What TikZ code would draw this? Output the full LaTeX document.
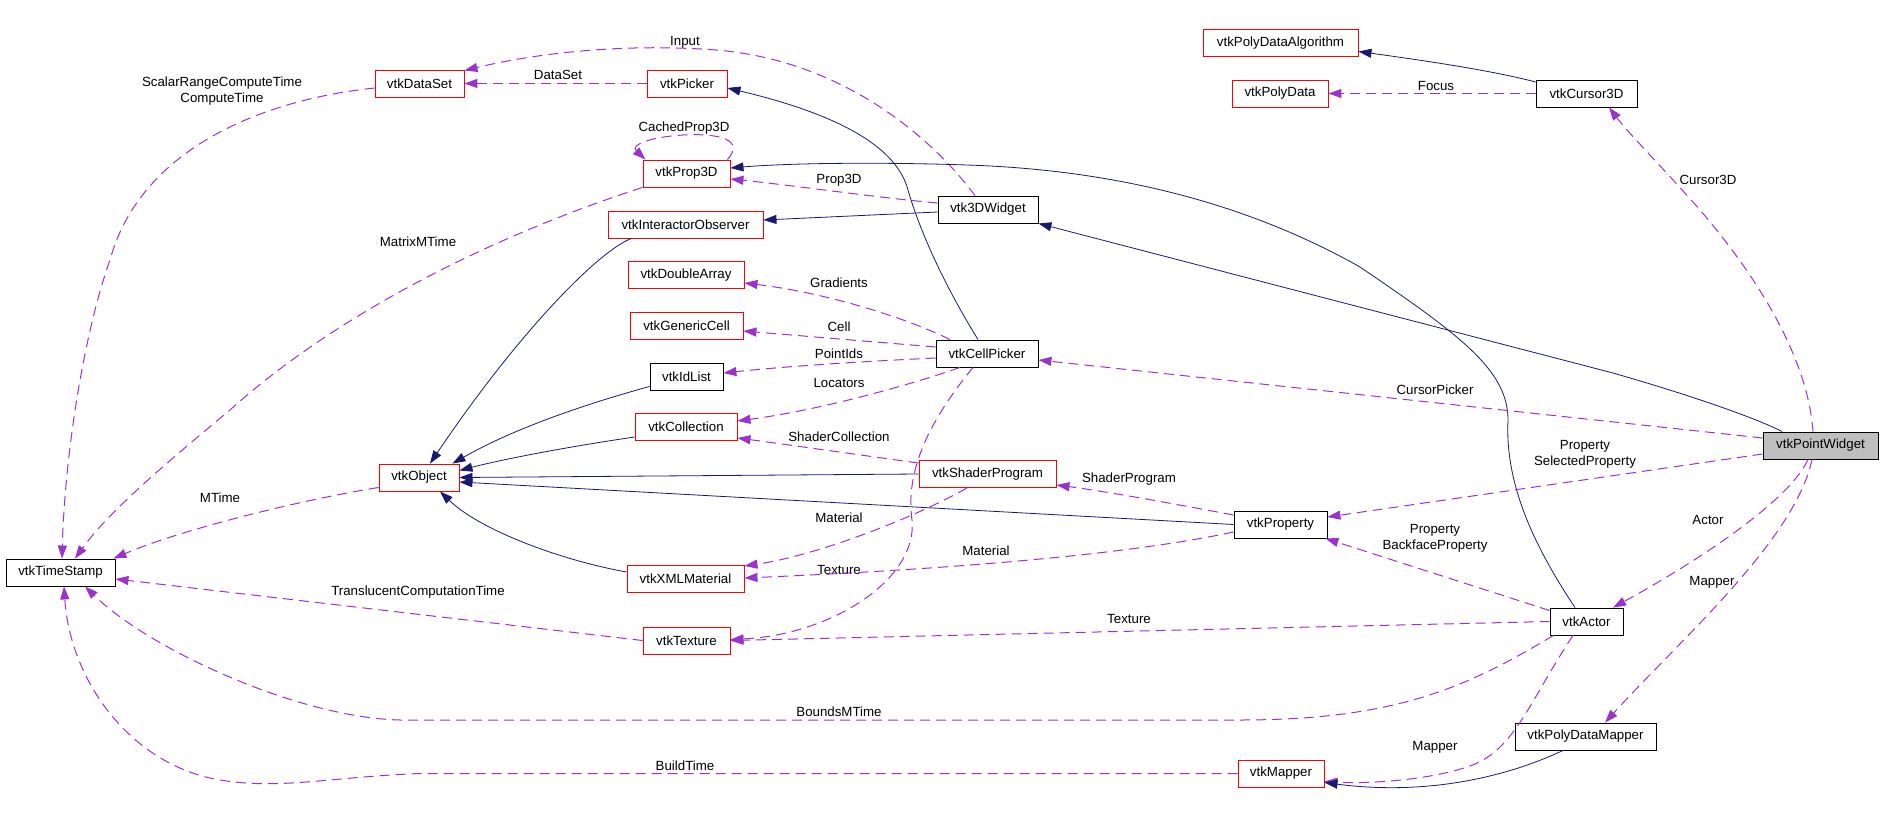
\documentclass[tikz,border=0pt]{standalone}
\usepackage{fontspec}
\setmainfont{Liberation Sans}
\usetikzlibrary{arrows.meta,calc}
\definecolor{inhcol}{HTML}{191970}
\definecolor{usecol}{HTML}{9A32CD}
\definecolor{pwfill}{HTML}{BFBFBF}
\tikzset{
  basebox/.style={rectangle, minimum height=27pt, inner sep=0pt, line width=0.9pt, font=\fontsize{13.3}{16}\selectfont},
  redbox/.style={basebox, draw=red},
  blkbox/.style={basebox, draw=black},
  lbl/.style={inner sep=0pt, align=center, font=\fontsize{13.3}{16}\selectfont},
  inh/.style={draw=inhcol, line width=0.8pt, -{Triangle[length=13pt,width=9pt]}, color=inhcol},
  use/.style={draw=usecol, line width=1pt, dash pattern=on 10pt off 6pt, -{Triangle[length=13pt,width=9pt]}, color=usecol}
}
\begin{document}
\begin{tikzpicture}[x=1pt,y=-1pt]
\useasboundingbox (0,0) rectangle (1883,819);
% nodes
\node[redbox, minimum width=155pt] (PDA) at (1280.5,43) {vtkPolyDataAlgorithm};
\node[redbox, minimum width=96pt] (PD) at (1280,93.5) {vtkPolyData};
\node[blkbox, minimum width=101pt] (C3D) at (1586.5,93.5) {vtkCursor3D};
\node[redbox, minimum width=89pt] (DS) at (419.5,83.5) {vtkDataSet};
\node[redbox, minimum width=80pt] (Picker) at (687,83.5) {vtkPicker};
\node[redbox, minimum width=87pt] (Prop3D) at (686.5,173.5) {vtkProp3D};
\node[redbox, minimum width=155pt] (IO) at (685.5,224.5) {vtkInteractorObserver};
\node[blkbox, minimum width=100pt] (W3D) at (988,209.5) {vtk3DWidget};
\node[redbox, minimum width=116pt] (DA) at (686,275) {vtkDoubleArray};
\node[redbox, minimum width=113pt] (GC) at (686.5,325.5) {vtkGenericCell};
\node[blkbox, minimum width=73pt] (IdList) at (686.5,376.5) {vtkIdList};
\node[blkbox, minimum width=102pt] (CP) at (987,353.5) {vtkCellPicker};
\node[redbox, minimum width=102pt] (Coll) at (686,427) {vtkCollection};
\node[redbox, minimum width=80pt] (Obj) at (419,477.5) {vtkObject};
\node[redbox, minimum width=137pt] (SP) at (987.5,474) {vtkShaderProgram};
\node[blkbox, minimum width=93pt] (Prop) at (1280.5,524.5) {vtkProperty};
\node[blkbox, fill=pwfill, minimum width=115pt] (PW) at (1820.5,445.5) {vtkPointWidget};
\node[blkbox, minimum width=109pt] (TS) at (60.5,572.5) {vtkTimeStamp};
\node[redbox, minimum width=117pt] (XML) at (685.5,579) {vtkXMLMaterial};
\node[redbox, minimum width=87pt] (Tex) at (686.5,640.5) {vtkTexture};
\node[blkbox, minimum width=73pt] (Actor) at (1586.5,621.5) {vtkActor};
\node[blkbox, minimum width=141pt] (PDM) at (1585.5,736.5) {vtkPolyDataMapper};
\node[redbox, minimum width=86pt] (Mapper) at (1281,773.5) {vtkMapper};
% labels
\node[lbl] (lDataSet) at (558,75) {DataSet};
\node[lbl] (lInput) at (685,42) {Input};
\node[lbl] (lCached) at (684,128) {CachedProp3D};
\node[lbl] (lProp3D) at (839,180) {Prop3D};
\node[lbl] (lGrad) at (839,283) {Gradients};
\node[lbl] (lCell) at (839,327) {Cell};
\node[lbl] (lPointIds) at (839,354) {PointIds};
\node[lbl] (lLoc) at (839,383) {Locators};
\node[lbl] (lShColl) at (839,437) {ShaderCollection};
\node[lbl] (lMat1) at (839,518) {Material};
\node[lbl] (lTex1) at (839,570) {Texture};
\node[lbl] (lMat2) at (986,551) {Material};
\node[lbl] (lShProg) at (1129,479) {ShaderProgram};
\node[lbl] (lTex2) at (1129,619) {Texture};
\node[lbl] (lBounds) at (839,712) {BoundsMTime};
\node[lbl] (lBuild) at (685,766) {BuildTime};
\node[lbl] (lFocus) at (1436,86) {Focus};
\node[lbl] (lCursor3D) at (1708,180) {Cursor3D};
\node[lbl] (lCursorPicker) at (1435,390) {CursorPicker};
\node[lbl] (lSelProp) at (1585,454) {Property\\SelectedProperty};
\node[lbl] (lBackProp) at (1435,538) {Property\\BackfaceProperty};
\node[lbl] (lActor) at (1708,520) {Actor};
\node[lbl] (lMapper1) at (1712,582) {Mapper};
\node[lbl] (lMapper2) at (1435,747) {Mapper};
\node[lbl] (lScalar) at (222,91) {ScalarRangeComputeTime\\ComputeTime};
\node[lbl] (lMatrix) at (418,242) {MatrixMTime};
\node[lbl] (lMTime) at (220,498) {MTime};
\node[lbl] (lTransl) at (418,592) {TranslucentComputationTime};
% edges
\draw[use] (Picker.west) -- (DS.east);
\draw[use] ([xshift=-13pt]W3D.north) .. controls (930,135) and (840,60) .. (716,50) .. controls (610,42) and (520,57) .. ([yshift=-1pt]DS.north east);
\draw[use] ([xshift=-3pt]Prop3D.north east) .. controls (745,140) and (720,133) .. (683,135) .. controls (650,137) and (630,145) .. ([xshift=3pt]Prop3D.north west);
\draw[use] ([yshift=6.5pt]W3D.west) .. controls (880,198) and (790,185) .. ([yshift=-5.5pt]Prop3D.east);
\draw[inh] ([yshift=-2.5pt]W3D.west) -- ([yshift=4.5pt]IO.east);
\draw[inh] ([xshift=-9pt]CP.north) .. controls (935,270) and (915,215) .. (908,190) .. controls (895,140) and (820,110) .. ([yshift=-4.5pt]Picker.east);
\draw[inh] ([xshift=-11.5pt]Actor.north) .. controls (1530,540) and (1505,480) .. (1508,420) .. controls (1508,370) and (1460,335) .. (1360,267) .. controls (1250,205) and (1120,170) .. (967,165) .. controls (880,162) and (790,163) .. ([yshift=5.5pt]Prop3D.east);
\draw[inh] ([xshift=-38.5pt]PW.north) .. controls (1760,420) and (1700,398) .. (1613,373) -- (W3D.south east);
\draw[inh] ([yshift=11.5pt]C3D.west) .. controls (1490,70) and (1420,60) .. ([yshift=-8.5pt]PDA.east);
\draw[use] (C3D.west) -- (PD.east);
\draw[use] ([xshift=-7.5pt]PW.north) .. controls (1808,360) and (1760,280) .. (1700,210) .. controls (1665,170) and (1630,135) .. ([xshift=22.5pt]C3D.south);
\draw[use] ([yshift=7.5pt]PW.west) -- ([yshift=-6.5pt]CP.east);
\draw[use] ([yshift=-8.5pt]PW.west) -- ([yshift=7.5pt]Prop.east);
\draw[use] ([xshift=-12.5pt]PW.south) .. controls (1790,500) and (1700,560) .. ([xshift=26.5pt]Actor.north);
\draw[use] ([xshift=-8.5pt]PW.south) .. controls (1795,540) and (1680,640) .. ([xshift=19.5pt]PDM.north);
\draw[use] ([yshift=11pt]Actor.west) -- ([xshift=-2pt]Prop.south east);
\draw[use] (Actor.west) -- (Tex.east);
\draw[use] ([xshift=-33pt]Actor.south) .. controls (1470,685) and (1400,720) .. (1240,720) -- (400,720) .. controls (300,718) and (150,650) .. ([xshift=24.5pt]TS.south);
\draw[use] (Mapper.west) -- (420,773.5) .. controls (330,777) and (280,790) .. (220,780) .. controls (130,765) and (70,680) .. ([xshift=3.5pt]TS.south);
\draw[use] ([xshift=-13.5pt]Actor.south) .. controls (1530,700) and (1515,750) .. (1470,766) .. controls (1430,780) and (1370,784) .. ([yshift=-8pt]Mapper.east);
\draw[inh] ([xshift=-22.5pt]PDM.south) .. controls (1500,780) and (1420,795) .. ([yshift=-9pt]Mapper.east);
\draw[use] ([yshift=-4.5pt]DS.west) .. controls (260,100) and (140,150) .. (110,260) .. controls (85,330) and (65,450) .. ([xshift=1.5pt]TS.north);
\draw[use] (Prop3D.south west) .. controls (480,240) and (330,320) .. (230,410) .. controls (170,460) and (110,510) .. ([xshift=14.5pt]TS.north);
\draw[use] ([yshift=-10pt]Obj.west) .. controls (300,500) and (180,530) .. ([xshift=-2pt]TS.north east);
\draw[use] (Tex.west) -- ([yshift=-6.5pt]TS.east);
\draw[inh] ([xshift=-54pt]IO.south) .. controls (600,250) and (520,330) .. ([xshift=11pt]Obj.north);
\draw[inh] ([yshift=-10pt]IdList.west) .. controls (600,400) and (520,425) .. ([xshift=-7pt]Obj.north east);
\draw[inh] ([yshift=-10pt]Coll.west) .. controls (560,448) and (500,460) .. ([yshift=7pt]Obj.east);
\draw[inh] (SP.west) -- (Obj.east);
\draw[inh] (Prop.west) -- ([yshift=-4.5pt]Obj.east);
\draw[inh] ([yshift=7pt]XML.west) .. controls (560,560) and (480,530) .. ([xshift=21pt]Obj.south);
\draw[use] ([xshift=-37pt]CP.north) .. controls (900,315) and (820,292) .. ([yshift=-8pt]DA.east);
\draw[use] ([yshift=6.5pt]CP.west) -- ([yshift=-5.5pt]GC.east);
\draw[use] ([yshift=-4.5pt]CP.west) .. controls (850,362) and (780,367) .. ([yshift=3.5pt]IdList.east);
\draw[use] ([xshift=-27pt]CP.south) .. controls (910,385) and (820,410) .. ([yshift=6pt]Coll.east);
\draw[use] ([yshift=11pt]SP.west) .. controls (860,455) and (790,445) .. ([yshift=-11pt]Coll.east);
\draw[use] ([yshift=9.5pt]Prop.west) .. controls (1180,505) and (1110,492) .. ([yshift=-11pt]SP.east);
\draw[use] ([xshift=-20.5pt]SP.south) .. controls (920,515) and (820,555) .. ([yshift=13pt]XML.east);
\draw[use] ([yshift=-7.5pt]Prop.west) .. controls (1150,550) and (1000,567) .. ([yshift=1pt]XML.east);
\draw[use] ([xshift=-14pt]CP.south) .. controls (930,420) and (905,470) .. (912,520) .. controls (918,580) and (830,635) .. ([yshift=1pt]Tex.east);
\end{tikzpicture}
\end{document}
